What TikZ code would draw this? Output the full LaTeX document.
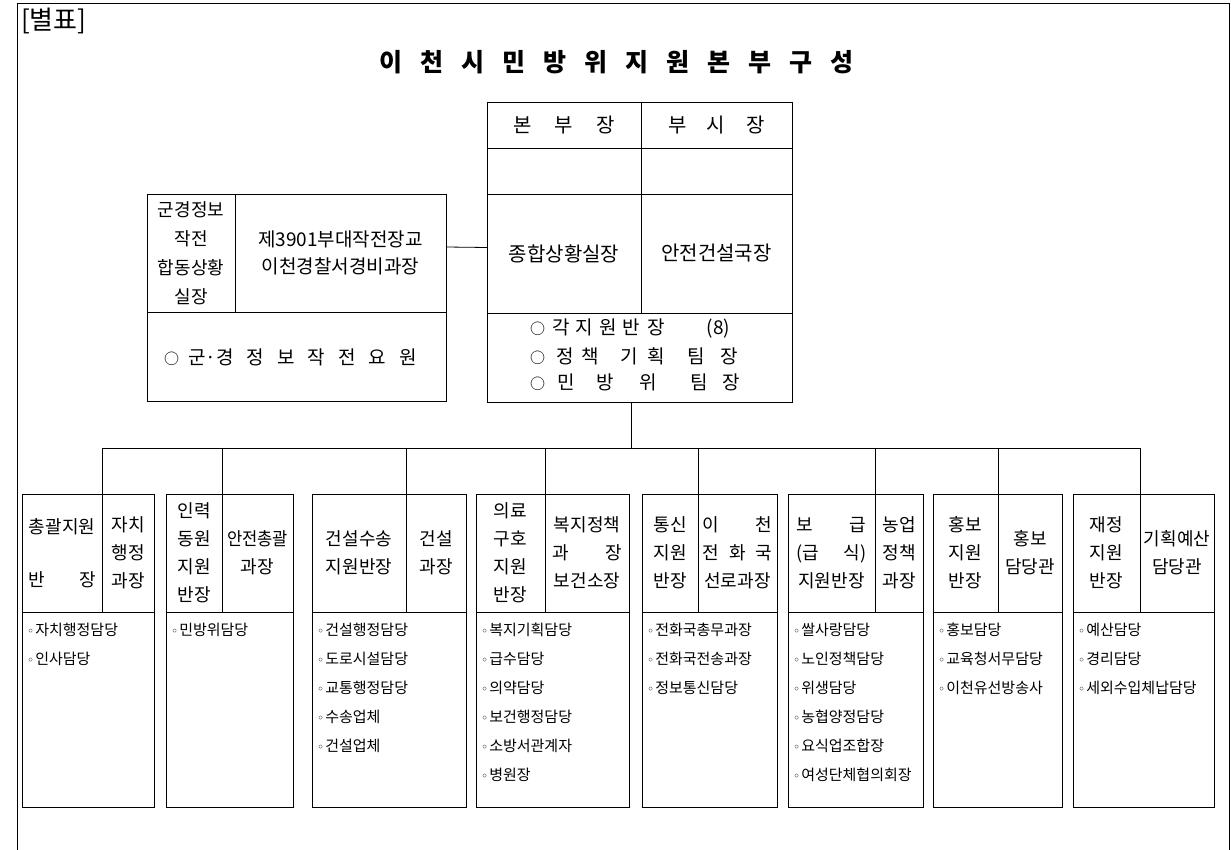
\documentclass[tikz,border=0pt]{standalone}
\usepackage{fontspec}
\setmainfont{Noto Sans CJK KR}
\newfontfamily\dejavu{DejaVu Sans}
\newcommand\bul{{\dejavu\fontsize{12}{12}\selectfont ◦}\hspace{1pt}}
\newcommand\circl{{\fontsize{15}{15}\selectfont ○}}
\newcommand\tg{\hspace{18pt}}
\begin{document}
\begin{tikzpicture}[x=1pt,y=-1pt,
  cell/.style={draw, line width=0.8pt, inner sep=0pt, outer sep=0pt, anchor=north west, align=center},
  sz/.style 2 args={minimum width=#1pt, minimum height=#2pt},
  hd/.style={font=\fontsize{18}{28}\selectfont},
  big/.style={font=\fontsize{20}{28}\selectfont},
  lst/.style={font=\fontsize{15}{29}\selectfont, align=left, anchor=north west, inner sep=0pt},
  conn/.style={line width=0.8pt}]
\useasboundingbox (0,0) rectangle (1231,850);
% frame
\draw[line width=0.9pt] (17,851) -- (17,3) -- (1229,3) -- (1229,851);
\node[anchor=west, inner sep=0pt, font=\fontsize{26}{26}\selectfont] (bp) at (21,21) {[별표]};
\node[inner sep=0pt, font=\fontsize{25}{25}\selectfont\bfseries] (title) at (616,62)
  {이\tg 천\tg 시\tg 민\tg 방\tg 위\tg 지\tg 원\tg 본\tg 부\tg 구\tg 성};

% center top box
\node[cell, big, sz={154}{46}] (c1L) at (487,102) {본\hspace{23pt}부\hspace{23pt}장};
\node[cell, big, sz={151}{46}] (c1R) at (641,102) {부\hspace{20pt}시\hspace{21pt}장};
\node[cell, sz={154}{46}] (c2L) at (487,148) {};
\node[cell, sz={151}{46}] (c2R) at (641,148) {};
\node[cell, big, sz={154}{119}] (c3L) at (487,194) {종합상황실장};
\node[cell, big, sz={151}{119}] (c3R) at (641,194) {안전건설국장};
\node[cell, sz={305}{89}] (c4) at (487,313) {};
\node[anchor=west, inner sep=0pt, font=\fontsize{19}{19}\selectfont] (c4a) at (530,329)
  {\circl\hspace{7pt}각\hspace{6pt}지\hspace{6pt}원\hspace{6pt}반\hspace{7pt}장\hspace{42pt}(8)};
\node[anchor=west, inner sep=0pt, font=\fontsize{19}{19}\selectfont] (c4b) at (530,356)
  {\circl\hspace{11pt}정\hspace{8pt}책\hspace{21pt}기\hspace{10pt}획\hspace{22pt}팀\hspace{16pt}장};
\node[anchor=west, inner sep=0pt, font=\fontsize{19}{19}\selectfont] (c4c) at (530,382)
  {\circl\hspace{12pt}민\hspace{22pt}방\hspace{25pt}위\hspace{34pt}팀\hspace{14pt}장};

% left box
\node[cell, font=\fontsize{18}{29}\selectfont, sz={88}{118}] (l1L) at (147,194) {군경정보\\작전\\합동상황\\실장};
\node[cell, font=\fontsize{19}{27}\selectfont, sz={211}{118}] (l1R) at (235,194) {제3901부대작전장교\\이천경찰서경비과장};
\node[cell, sz={299}{89}] (l2) at (147,312) {};
\node[anchor=west, inner sep=0pt, font=\fontsize{19}{19}\selectfont] (l2t) at (164,357)
  {\circl\hspace{9pt}군·경\hspace{13pt}정\hspace{13pt}보\hspace{13pt}작\hspace{13pt}전\hspace{13pt}요\hspace{13pt}원};

\draw[conn] ([yshift=6pt]l1R.east) -- ([yshift=6pt]c3L.west);

% bottom boxes
% 1
\node[cell, hd, sz={80}{118}] (b1L) at (22,494) {총괄지원\\[25pt]\makebox[68pt]{반\hfill 장}};
\node[cell, hd, sz={52}{118}] (b1R) at (102,494) {자치\\행정\\과장};
\node[cell, sz={132}{195}] (b1B) at (22,612) {};
\node[lst] (t1) at (27,623) {\bul 자치행정담당\\\bul 인사담당};
% 2
\node[cell, hd, sz={56}{118}] (b2L) at (166,494) {인력\\동원\\지원\\반장};
\node[cell, hd, sz={71}{118}] (b2R) at (222,494) {\scalebox{0.92}[1]{안전총괄}\\과장};
\node[cell, sz={127}{195}] (b2B) at (166,612) {};
\node[lst] (t2) at (171,623) {\bul 민방위담당};
% 3
\node[cell, hd, sz={94}{118}] (b3L) at (312,494) {건설수송\\지원반장};
\node[cell, hd, sz={60}{118}] (b3R) at (406,494) {건설\\과장};
\node[cell, sz={154}{195}] (b3B) at (312,612) {};
\node[lst] (t3) at (317,623) {\bul 건설행정담당\\\bul 도로시설담당\\\bul 교통행정담당\\\bul 수송업체\\\bul 건설업체};
% 4
\node[cell, hd, sz={69}{118}] (b4L) at (476,494) {의료\\구호\\지원\\반장};
\node[cell, hd, sz={84}{118}] (b4R) at (545,494) {복지정책\\\makebox[70pt]{과\hfill 장}\\보건소장};
\node[cell, sz={153}{195}] (b4B) at (476,612) {};
\node[lst] (t4) at (481,623) {\bul 복지기획담당\\\bul 급수담당\\\bul 의약담당\\\bul 보건행정담당\\\bul 소방서관계자\\\bul 병원장};
% 5
\node[cell, hd, sz={56}{118}] (b5L) at (642,494) {통신\\지원\\반장};
\node[cell, hd, sz={79}{118}] (b5R) at (698,494) {\makebox[70pt]{이\hfill 천}\\\makebox[70pt]{전\hfill 화\hfill 국}\\선로과장};
\node[cell, sz={135}{195}] (b5B) at (642,612) {};
\node[lst] (t5) at (647,623) {\bul 전화국총무과장\\\bul 전화국전송과장\\\bul 정보통신담당};
% 6
\node[cell, hd, sz={87}{118}] (b6L) at (788,494) {\makebox[70pt]{보\hfill 급}\\\makebox[70pt]{(급\hfill 식)}\\지원반장};
\node[cell, hd, sz={48}{118}] (b6R) at (875,494) {농업\\정책\\과장};
\node[cell, sz={135}{195}] (b6B) at (788,612) {};
\node[lst] (t6) at (793,623) {\bul 쌀사랑담당\\\bul 노인정책담당\\\bul 위생담당\\\bul 농협양정담당\\\bul 요식업조합장\\\bul 여성단체협의회장};
% 7
\node[cell, hd, sz={65}{118}] (b7L) at (933,494) {홍보\\지원\\반장};
\node[cell, hd, sz={64}{118}] (b7R) at (998,494) {홍보\\담당관};
\node[cell, sz={129}{195}] (b7B) at (933,612) {};
\node[lst] (t7) at (938,623) {\bul 홍보담당\\\bul 교육청서무담당\\\bul 이천유선방송사};
% 8
\node[cell, hd, sz={67}{118}] (b8L) at (1073,494) {재정\\지원\\반장};
\node[cell, hd, sz={74}{118}] (b8R) at (1140,494) {기획예산\\담당관};
\node[cell, sz={141}{195}] (b8B) at (1073,612) {};
\node[lst] (t8) at (1078,623) {\bul 예산담당\\\bul 경리담당\\\bul 세외수입체납담당};

% tree connectors
\coordinate (jt) at (631,448);
\draw[conn] (jt |- c4.south) -- (jt);
\draw[conn] (b1L.north east |- jt) -- (b8L.north east |- jt);
\foreach \b in {b1L,b2L,b3L,b4L,b5L,b6L,b7L,b8L}
  \draw[conn] (\b.north east |- jt) -- (\b.north east);
\end{tikzpicture}
\end{document}
